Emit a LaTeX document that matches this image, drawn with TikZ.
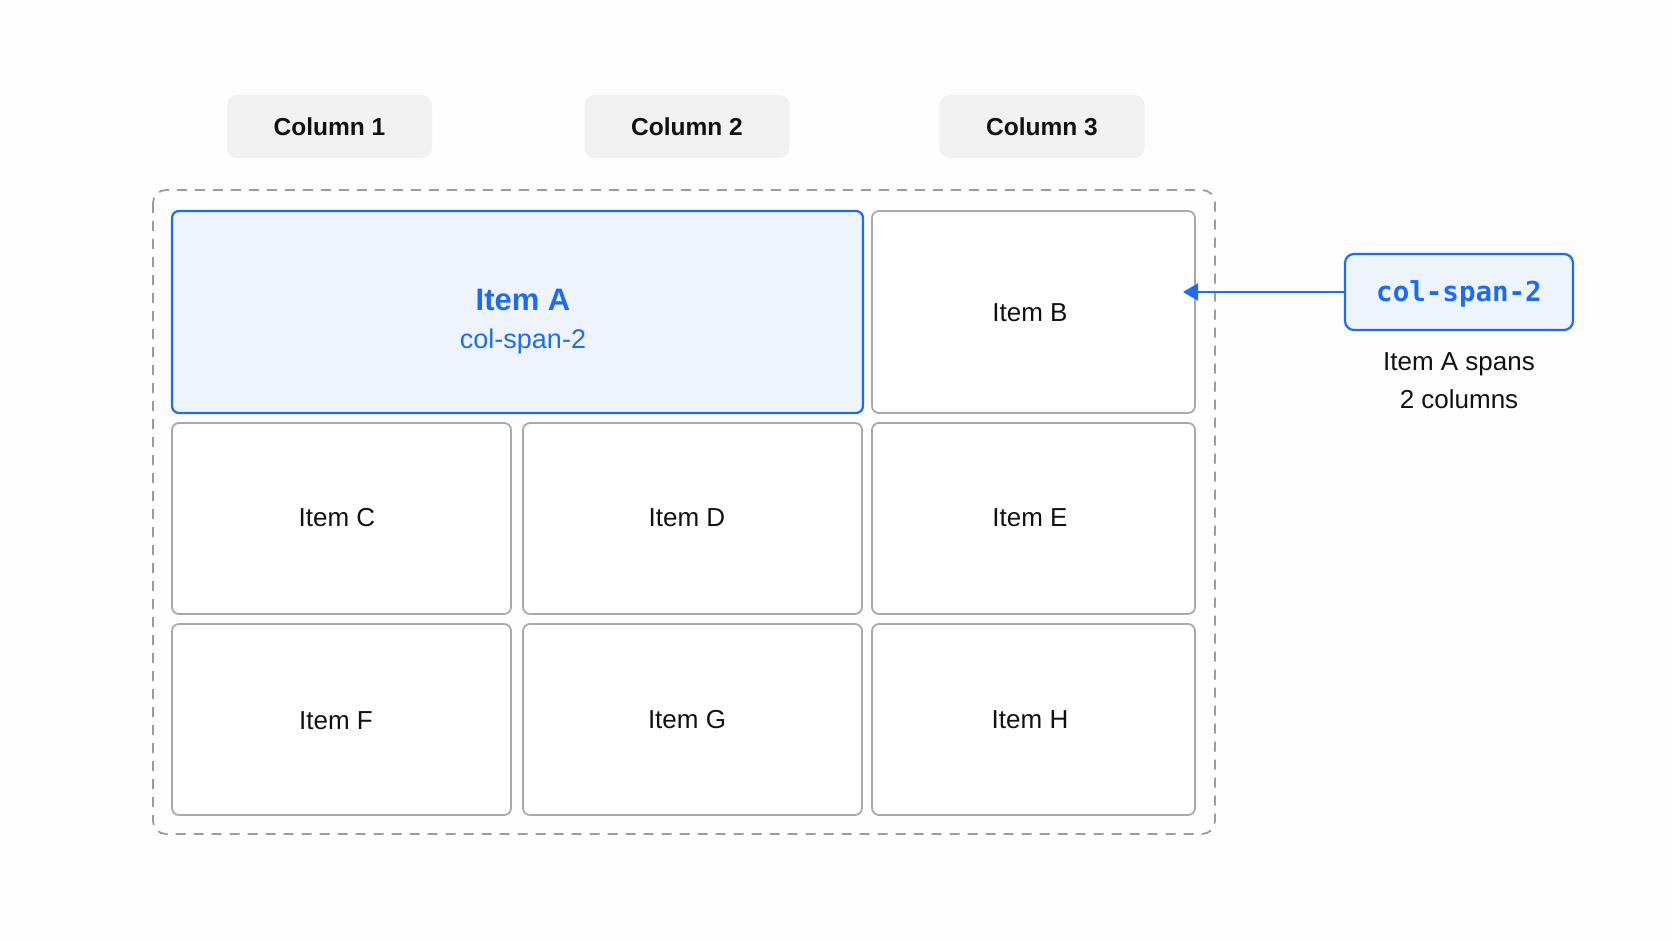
\documentclass[tikz,border=0pt]{standalone}
\usepackage{fontspec}
\setmainfont{Liberation Sans}
\newfontfamily\codefont{DejaVu Sans Mono}
\usetikzlibrary{arrows.meta}
\definecolor{accent}{HTML}{1F6BF0}
\definecolor{accentfill}{HTML}{EEF4FE}
\definecolor{hdrfill}{HTML}{F1F1F2}
\definecolor{cellline}{HTML}{A9A9AC}
\definecolor{dashline}{HTML}{9C9CA0}
\definecolor{bg}{HTML}{FDFDFD}
\definecolor{ink}{HTML}{111111}
\tikzset{
  hdr/.style={fill=hdrfill, rounded corners=10pt, inner sep=0pt, minimum width=205pt, minimum height=63pt, font=\fontsize{24.5}{28}\selectfont\bfseries, text=ink},
  cell/.style={draw=cellline, line width=1.8pt, fill=white, rounded corners=7pt, inner sep=0pt, font=\fontsize{26}{30}\selectfont, text=ink},
  spancell/.style={draw=accent, line width=2.2pt, fill=accentfill, rounded corners=7pt, inner sep=0pt},
  tagbox/.style={draw=accent, line width=2.2pt, fill=accentfill, rounded corners=9pt, inner sep=0pt, minimum width=228pt, minimum height=76pt, text=accent, font=\codefont\fontsize{27.5}{30}\selectfont\bfseries},
  outer/.style={draw=dashline, line width=1.8pt, dash pattern=on 10pt off 8pt, rounded corners=13pt},
  note/.style={align=center, font=\fontsize{26}{38}\selectfont, text=ink},
  pointer/.style={draw=accent, line width=2.2pt, -{Triangle[length=15pt,width=17pt]}},
  lbl/.style={font=\fontsize{26}{30}\selectfont, text=ink}
}
\begin{document}
\begin{tikzpicture}[x=1pt,y=-1pt]
\useasboundingbox[fill=bg] (0,0) rectangle (1672,941);
% column headers
\node[hdr] (h1) at (329.5,126.5) {Column 1};
\node[hdr] (h2) at (687,126.5) {Column 2};
\node[hdr] (h3) at (1042,126.5) {Column 3};
% dashed grid container
\draw[outer] (153,190) rectangle (1215,834);
% items
\node[spancell, minimum width=691pt, minimum height=202pt] (A) at (517.5,312) {};
\node[text=accent, font=\fontsize{31}{34}\selectfont\bfseries] (Atitle) at (523,300) {Item A};
\node[text=accent, font=\fontsize{27}{30}\selectfont] (Asub) at (523,342) {col-span-2};
\node[cell, minimum width=323pt, minimum height=202pt] (B) at (1033.5,312) {};
\node[cell, minimum width=339pt, minimum height=191pt] (C) at (341.5,518.5) {};
\node[cell, minimum width=339pt, minimum height=191pt] (D) at (692.5,518.5) {};
\node[cell, minimum width=323pt, minimum height=191pt] (E) at (1033.5,518.5) {};
\node[cell, minimum width=339pt, minimum height=191pt] (F) at (341.5,719.5) {};
\node[cell, minimum width=339pt, minimum height=191pt] (G) at (692.5,719.5) {};
\node[cell, minimum width=323pt, minimum height=191pt] (H) at (1033.5,719.5) {};
\node[lbl] (Bl) at (1030,313) {Item B};
\node[lbl] (Cl) at (337,518) {Item C};
\node[lbl] (Dl) at (687,518) {Item D};
\node[lbl] (El) at (1030,518) {Item E};
\node[lbl] (Fl) at (336,721) {Item F};
\node[lbl] (Gl) at (687,720) {Item G};
\node[lbl] (Hl) at (1030,720) {Item H};
% annotation
\node[tagbox] (tag) at (1459,292) {};
\node[text=accent, font=\codefont\fontsize{27.5}{30}\selectfont\bfseries] (tagl) at (1459,294) {col-span-2};
\node[note] (note) at (1459,381) {Item A spans\\2 columns};
\coordinate (tip) at (1183,292);
\draw[pointer] (tag.west) -- (tip);
\end{tikzpicture}
\end{document}
